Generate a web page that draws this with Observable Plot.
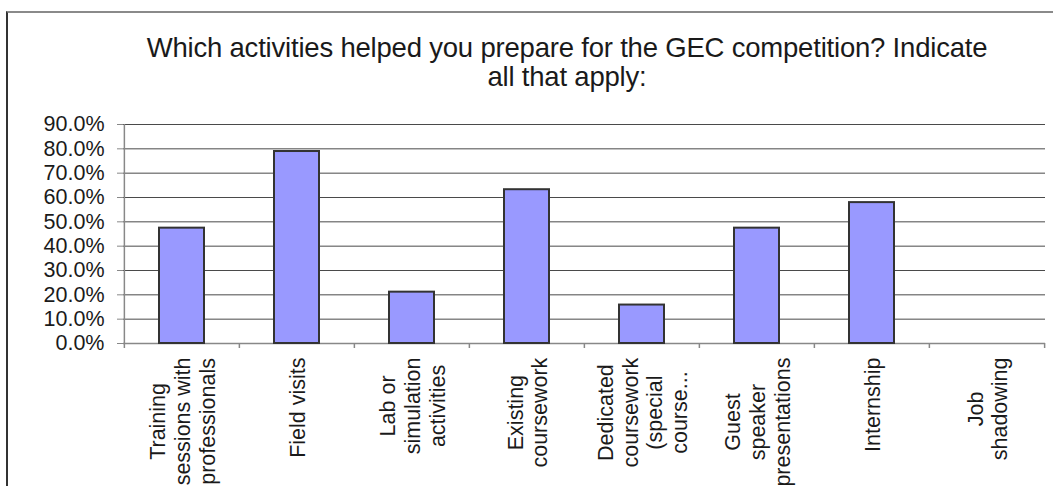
<!DOCTYPE html>
<html>
<head>
<meta charset="utf-8">
<script src="https://cdn.jsdelivr.net/npm/d3@7"></script>
<script src="https://cdn.jsdelivr.net/npm/@observablehq/plot@0.6"></script>
<style>
  html, body { margin: 0; padding: 0; background: #fff; overflow: hidden; }
  body { width: 1053px; height: 486px; position: relative; font-family: "Liberation Sans", Arial, sans-serif; }
  #frame { position: absolute; left: 6px; top: 11px; width: 1200px; height: 600px;
           border-left: 2px solid #333; border-top: 2px solid #8a8a8a; }
  #title { position: absolute; left: 67px; top: 33px; width: 1000px; text-align: center;
           font-size: 27.5px; line-height: 29px; color: #1a1a1a; letter-spacing: -0.2px; }
  #chart { position: absolute; left: 0; top: 100px; }
</style>
</head>
<body>
<div id="frame"></div>
<div id="title">Which activities helped you prepare for the GEC competition? Indicate<br>all that apply:</div>
<div id="chart"></div>
<script>
const categories = [
  "Training\nsessions with\nprofessionals",
  "Field visits",
  "Lab or\nsimulation\nactivities",
  "Existing\ncoursework",
  "Dedicated\ncoursework\n(special\ncourse...",
  "Guest\nspeaker\npresentations",
  "Internship",
  "Job\nshadowing"
];
const values = [0.474, 0.789, 0.211, 0.632, 0.158, 0.474, 0.579, 0];
const yTicks = [0, 0.1, 0.2, 0.3, 0.4, 0.5, 0.6, 0.7, 0.8, 0.9];

const data = categories.map((c, i) => ({cat: c, value: values[i]}));

const W = 1053, H = 386;
const mL = 123, mR = 8, mT = 24, mB = 143;
const bw = (W - mL - mR) / categories.length;

const plot = Plot.plot({
  width: W, height: H,
  marginLeft: mL, marginRight: mR, marginTop: mT, marginBottom: mB,
  style: {fontFamily: "'Liberation Sans', Arial, sans-serif", fontSize: "21px", color: "#1a1a1a", background: "transparent"},
  x: {domain: categories, padding: 0, axis: null},
  y: {domain: [0, 0.9], axis: null},
  marks: [
    Plot.ruleY(yTicks.slice(1), {y: d => d, stroke: "#4a4a4a", strokeWidth: 1}),
    Plot.axisY(yTicks, {tickFormat: d3.format(".1%"), tickSize: 6, tickPadding: 13, stroke: "#888", fontSize: 21.5, fill: "#1a1a1a", label: null}),
    Plot.ruleX([categories[0]], {x: d => d, dx: -bw / 2, y1: 0, y2: 0.9, stroke: "#888", strokeWidth: 1.5}),
    Plot.ruleY([0], {y: d => d, stroke: "#888", strokeWidth: 1.5}),
    Plot.ruleX(categories, {x: d => d, dx: -bw / 2, y1: 0, y2: 0, insetTop: 5, stroke: "#888", strokeWidth: 1.5}),
    Plot.ruleX([categories[categories.length - 1]], {x: d => d, dx: bw / 2, y1: 0, y2: 0, insetTop: 5, stroke: "#888", strokeWidth: 1.5}),
    Plot.barY(data, {x: "cat", y: "value", fill: "#9999ff", stroke: "#333", strokeWidth: 2, insetLeft: 35, insetRight: 35}),
    Plot.text(categories, {x: d => d, y: () => 0, text: d => d, rotate: -90, textAnchor: "middle", lineAnchor: "middle", lineHeight: 1.15, fontSize: 21.5, fill: "#1a1a1a", className: "xlab"})
  ]
});

document.getElementById("chart").appendChild(plot);

// place rotated labels: top of the longest line just below the axis, lines centred
const y0 = mT + (H - mT - mB); // pixel of 0
d3.select(plot).selectAll("g.xlab text, .xlab text").each(function() {
  const t = this.getAttribute("transform") || "";
  const m = /translate\(([-\d.]+),\s*([-\d.]+)\)/.exec(t);
  if (!m) return;
  const bb = this.getBBox();
  const L = bb.width;
  const x = +m[1];
  this.setAttribute("transform", `translate(${x},${y0 + 14 + L / 2}) rotate(-90)`);
});
</script>
</body>
</html>
